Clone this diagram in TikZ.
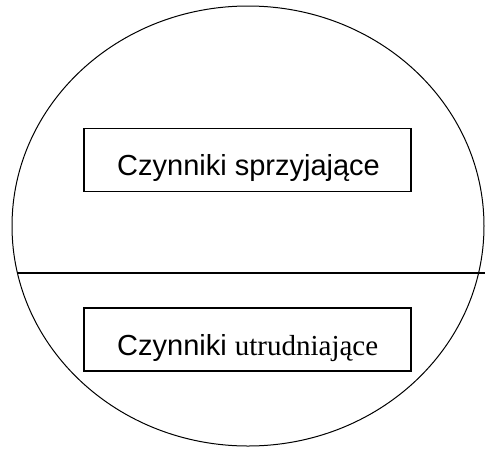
\documentclass[tikz,border=0pt]{standalone}
\usepackage{fontspec}
\setmainfont{Liberation Sans}
\newfontfamily\timesfont{Liberation Serif}
\usetikzlibrary{shapes.geometric}
\begin{document}
\begin{tikzpicture}[x=1pt,y=-1pt,
  oval/.style={draw, ellipse, line width=1pt, inner sep=0pt, minimum width=472pt, minimum height=440pt},
  factorbox/.style={draw, rectangle, line width=1.2pt, inner sep=0pt, minimum width=327pt, minimum height=63pt},
  label/.style={anchor=base west, inner sep=0pt, font=\fontsize{29}{34}\selectfont}
]
\useasboundingbox (0,0) rectangle (485,448);
\node[oval] (oval) at (248,226) {};
\coordinate (divL) at (17.5,273);
\coordinate (divR) at (486,273);
\draw[line width=1.2pt] (divL) -- (divR);
\node[factorbox] (boxA) at (247.5,160) {};
\node[factorbox] (boxB) at (247.5,339.5) {};
\node[label] (textA) at (117,175) {Czynniki sprzyjające};
\node[label] (textB) at (117,355) {Czynniki {\timesfont utrudniające}};
\end{tikzpicture}
\end{document}
